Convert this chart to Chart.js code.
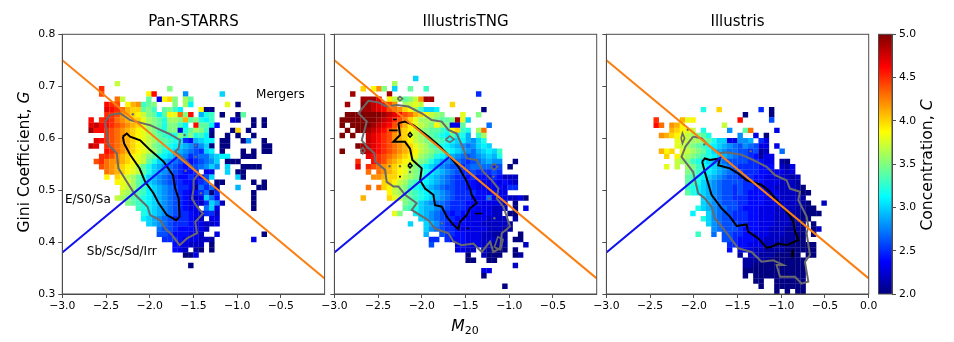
<!DOCTYPE html>
<html>
<head>
<meta charset="utf-8">
<title>Gini-M20</title>
<script src="https://cdn.jsdelivr.net/npm/chart.js@4/dist/chart.umd.min.js"></script>
<style>
html, body { margin: 0; padding: 0; background: #fff; overflow: hidden; }
canvas { position: absolute; left: 0; top: 0; filter: blur(0.3px); }
</style>
</head>
<body>
<canvas id="pan" width="954" height="342"></canvas>
<canvas id="tng" width="954" height="342"></canvas>
<canvas id="ill" width="954" height="342"></canvas>
<canvas id="cbar" width="954" height="342"></canvas>
<script>
// bins: 50 x 50 over M20 -3..0 and G 0.8..0.3, row 0 is the top one
// each row is [row, col, cells, col, cells, ...]
// one char per cell, position in LEVELS gives C = 2.0 + 0.1 * position
var LEVELS = '0123456789abcdefghijklmnopqrstu';

var panCells = [
  [9, 10,'h'],
  [10, 7,'p', 20,'f'],
  [11, 7,'o', 16,'jq', 23,'8', 30,'a'],
  [12, 10,'nh', 16,'e', 18,'3jkf', 23,'ge'],
  [13, 8,'qpo', 12,'jlmdef', 21,'f', 23,'gb', 31,'i', 33,'0'],
  [14, 8,'rqpnlkkefd', 19,'efdb', 26,'j00'],
  [15, 8,'ppomlkjhfeb', 19,'ejinfq', 26,'9cd', 30,'0', 33,'0', 34,'e'],
  [16, 5,'q', 7,'pqpnmlkkigfecggflef', 26,'cbd', 32,'21', 36,'0', 38,'0'],
  [17, 5,'rsqqponmlkigfecffdb', 25,'qeeb4', 36,'0', 38,'0'],
  [18, 5,'tqqponmlkjigfdcfff', 22,'3cegfd', 28,'1', 32,'0', 33,'k', 35,'0'],
  [19, 8,'ponmlkjihfedccfd', 24,'f', 25,'cdb', 28,'0', 31,'0', 33,'0', 36,'0'],
  [20, 6,'rq', 8,'ponmlkjihgeedcb', 23,'549abb', 30,'00', 34,'0', 35,'8', 38,'0'],
  [21, 5,'sr', 8,'ponmlkjihfedcba98', 25,'68a', 28,'0', 30,'00', 38,'00'],
  [22, 8,'qpnmlkjihgecba98765', 27,'ab', 30,'0', 34,'0', 36,'0', 38,'00'],
  [23, 7,'ppomlkjihfecba9875', 25,'6779ab', 31,'b', 34,'000'],
  [24, 6,'o', 7,'pnmmlkjiheca98765', 24,'45678', 29,'a', 31,'000'],
  [25, 7,'onmlkjigeca98765', 23,'45678a', 29,'8', 31,'a', 34,'000', 37,'0'],
  [26, 8,'nmlkjiheca987654', 24,'45', 27,'33', 31,'a', 33,'0', 34,'0'],
  [27, 8,'j', 10,'kjhgeca98765', 22,'44', 24,'54', 26,'3', 27,'6', 28,'a', 33,'a', 34,'0'],
  [28, 10,'jiigeca98765', 22,'544', 25,'3', 26,'5', 27,'6', 29,'00', 36,'0', 38,'0'],
  [29, 11,'ihgedba9876', 22,'554', 25,'1', 26,'7', 27,'5', 28,'7', 29,'1', 33,'9', 37,'00'],
  [30, 11,'hgfedba987', 21,'6543', 25,'4', 26,'5', 27,'7', 28,'0', 29,'5', 36,'0'],
  [31, 10,'hgfedcba9876', 22,'5432', 26,'3', 27,'a', 28,'7', 29,'4', 36,'0'],
  [32, 12,'fedcba98765', 23,'4332', 27,'5a8', 30,'2', 36,'0'],
  [33, 14,'dcba98765', 23,'433', 27,'7a', 29,'3', 36,'0'],
  [34, 15,'cba9876', 22,'55433', 27,'55', 29,'2'],
  [35, 15,'ba98765', 22,'55432', 28,'33'],
  [36, 16,'a98765', 22,'55433', 27,'22', 29,'3'],
  [37, 18,'76654', 23,'44332'],
  [38, 18,'6654', 22,'44332', 29,'3', 38,'0'],
  [39, 19,'5554333', 26,'22', 28,'1', 36,'3'],
  [40, 21,'43', 23,'3', 24,'222', 28,'0'],
  [41, 21,'4', 22,'3', 23,'2', 25,'1', 26,'0', 28,'0'],
  [42, 23,'00', 25,'3'],
  [44, 24,'0']
];

var tngCells = [
  [8, 15,'a'],
  [9, 11,'g'],
  [10, 5,'k', 7,'jmf', 11,'a', 14,'e', 17,'d'],
  [11, 3,'t', 10,'t', 27,'5'],
  [12, 5,'ttt', 8,'r', 10,'jhgefhm', 17,'tt'],
  [13, 2,'t', 5,'utsrqom', 13,'ghih', 22,'k'],
  [14, 5,'ttsrqonmkjgdaa', 19,'b', 28,'0'],
  [15, 2,'uuuuuuuts', 11,'rqonlkjhgf', 24,'i', 27,'f'],
  [16, 1,'uuuuuuuts', 10,'rpomkigggfeef', 23,'t', 24,'ia'],
  [17, 1,'u', 3,'uuuuts', 9,'rqonljihgfjgf', 22,'33', 24,'e', 29,'7'],
  [18, 2,'u', 4,'uutsrqonlkjhgfeedc', 22,'jk', 24,'dc', 27,'g', 28,'n'],
  [19, 1,'u', 3,'u', 6,'srqpomlkihgfedcb', 22,'eb', 24,'c9', 27,'d', 28,'g'],
  [20, 6,'srqpomlkjhgffedcba', 24,'b98', 27,'a', 28,'c'],
  [21, 4,'utsrqponmlkihgedcba98', 25,'7', 26,'8a', 28,'b', 29,'a'],
  [22, 1,'u', 5,'tsrqponmlkjhgfedcba98', 26,'79ab', 30,'a', 31,'d'],
  [23, 6,'rqp', 9,'onmlkjigfecba98', 24,'7', 25,'678', 28,'9a', 30,'9', 31,'c'],
  [24, 4,'p', 7,'qpo', 10,'mlkjigfeca987', 23,'765', 26,'6', 27,'7', 28,'8', 29,'9', 30,'88', 34,'0'],
  [25, 4,'r', 6,'po', 8,'nmlkjigfdba98', 21,'7', 22,'6', 23,'65677', 28,'77', 30,'5', 31,'6', 33,'0'],
  [26, 6,'n', 8,'nmlkjigfecba987', 23,'65', 25,'5', 26,'65', 28,'55', 30,'65'],
  [27, 7,'mmlkkjhgfdba98', 21,'76', 23,'55', 25,'4', 26,'5', 27,'443', 30,'5', 31,'4', 32,'2', 33,'22'],
  [28, 9,'kkjhgedcba987', 22,'65', 24,'54', 26,'4', 27,'33', 29,'3', 30,'43', 32,'4', 33,'3', 34,'2'],
  [29, 6,'n', 8,'nkjhgfdcba98', 20,'766', 23,'55', 25,'44', 27,'333', 30,'3', 31,'4', 32,'3', 33,'55'],
  [30, 10,'jhgfedcba987', 22,'655', 25,'55', 27,'44', 29,'3', 30,'4', 31,'3', 32,'3'],
  [31, 5,'l', 10,'kihfedcba98', 21,'7655', 25,'54', 27,'44', 29,'7', 30,'3', 31,'33', 33,'22', 35,'3', 36,'0'],
  [32, 13,'feda98', 19,'7765', 23,'5544', 27,'433', 30,'33', 32,'2', 34,'0'],
  [33, 13,'edc', 16,'a9987', 21,'6555', 25,'4433', 29,'322', 32,'2', 34,'0', 36,'3'],
  [34, 11,'if', 15,'ba98', 19,'7654', 23,'54', 25,'4333', 29,'3', 30,'22', 33,'0', 34,'0'],
  [35, 16,'a98', 19,'765', 22,'5443', 26,'333', 29,'2222', 34,'1'],
  [36, 14,'a', 17,'a98', 20,'654', 23,'4433', 27,'3', 28,'2', 29,'2', 30,'22', 32,'2', 33,'1'],
  [37, 17,'a87', 20,'65', 22,'543', 25,'3333', 29,'22', 31,'21', 33,'1'],
  [38, 17,'9', 20,'65', 22,'54', 24,'4', 25,'333', 28,'22', 30,'111', 35,'0'],
  [39, 18,'55', 21,'5', 22,'4', 23,'4433', 27,'322', 30,'211', 34,'00'],
  [40, 18,'6', 23,'3433', 27,'32', 29,'2', 30,'11', 32,'1', 36,'2'],
  [41, 23,'3322', 28,'2', 29,'1000', 34,'0'],
  [42, 25,'0', 28,'2', 29,'000', 34,'0', 35,'1'],
  [43, 25,'00', 29,'00'],
  [44, 34,'2'],
  [45, 28,'33'],
  [46, 28,'0'],
  [48, 32,'0']
];

var illCells = [
  [14, 18,'c', 21,'k', 29,'5', 31,'0'],
  [15, 26,'0', 31,'0'],
  [16, 9,'p', 14,'l', 15,'ij', 25,'q', 31,'6'],
  [17, 9,'qn', 12,'mlj', 22,'h'],
  [18, 12,'lk', 14,'jih', 18,'c', 23,'8', 26,'e', 27,'n', 32,'3'],
  [19, 10,'mlkjihgfe', 19,'c', 25,'8', 28,'3', 30,'0'],
  [20, 13,'iihggfeca', 22,'a33889', 29,'53'],
  [21, 13,'ihgfedcba', 22,'9876', 26,'8', 27,'7', 28,'6', 29,'33', 32,'3'],
  [22, 10,'ljk', 14,'ihgfeca987', 24,'7', 25,'6', 26,'65', 28,'6', 29,'1', 30,'2', 33,'7'],
  [23, 11,'k', 13,'jhgfedcba98', 24,'76654', 29,'1', 30,'3', 31,'3'],
  [24, 13,'hgfdcba9876', 24,'6665', 28,'5', 29,'4', 30,'3', 31,'3', 33,'10'],
  [25, 11,'i', 13,'h', 15,'gfdcba987', 24,'655', 27,'55', 29,'44', 31,'4', 33,'2', 34,'1', 35,'3'],
  [26, 15,'fedcba98', 23,'7665', 27,'55', 29,'4433', 33,'32', 35,'3'],
  [27, 15,'edcba98', 22,'7665', 26,'55', 28,'4433', 32,'222', 35,'1', 36,'2'],
  [28, 15,'edca9', 20,'8766', 24,'6655', 28,'443', 31,'3322', 35,'21'],
  [29, 15,'dcba98', 21,'7665', 25,'655', 28,'4433', 32,'2222', 36,'10'],
  [30, 15,'e', 16,'cba9', 20,'87665', 25,'6544', 29,'4333', 33,'2221', 37,'0', 38,'0'],
  [31, 18,'a98', 21,'7665', 25,'55', 27,'444', 30,'3332', 34,'222', 37,'1'],
  [32, 18,'a98', 21,'766', 24,'65', 26,'544', 29,'4333', 33,'2222', 37,'10', 41,'2'],
  [33, 17,'c', 18,'a987', 22,'76', 24,'65', 26,'44', 28,'4333', 32,'222', 35,'2110', 39,'0'],
  [34, 16,'b', 19,'a87', 22,'665', 25,'55', 27,'44', 29,'333', 32,'2221', 36,'1', 37,'00', 39,'00'],
  [35, 18,'c', 19,'a8', 21,'76', 23,'6', 24,'555', 27,'44', 29,'333', 32,'222', 35,'1100'],
  [36, 19,'a8', 21,'766', 24,'6', 25,'55', 27,'4', 28,'433', 31,'3222', 35,'110', 39,'0'],
  [37, 20,'876', 23,'66', 25,'54', 27,'443', 30,'32', 32,'22', 34,'111', 37,'0', 39,'0', 40,'2'],
  [38, 17,'d', 20,'7', 22,'6', 23,'6', 24,'55', 26,'44', 28,'33', 30,'322', 33,'211', 36,'00', 39,'0'],
  [39, 22,'66', 24,'5', 25,'44', 27,'433', 30,'22', 32,'2', 33,'11', 35,'100'],
  [40, 23,'55', 25,'44', 27,'333', 30,'22', 32,'111', 35,'000', 38,'00'],
  [41, 23,'4', 25,'3', 26,'3', 27,'322', 30,'1', 31,'111', 34,'0000', 38,'00'],
  [42, 25,'1', 27,'22', 29,'1', 30,'1100', 34,'000', 38,'00'],
  [43, 26,'1', 27,'11', 29,'1', 30,'100000', 36,'00'],
  [44, 26,'1100', 30,'00000', 35,'000'],
  [45, 26,'00', 28,'000000', 34,'0000'],
  [46, 26,'0', 28,'0000000', 35,'000'],
  [47, 28,'00', 32,'00000', 37,'0'],
  [48, 29,'0', 32,'000000'],
  [49, 32,'0', 34,'0', 36,'00']
];

// contours, [M20, G]
var panBlack = [[-2.308,.603],[-2.262,.609],[-2.224,.603],[-2.109,.596],[-1.995,.577],[-1.842,.555],[-1.735,.529],[-1.708,.503],[-1.670,.484],[-1.658,.449],[-1.697,.442],[-1.804,.452],[-1.899,.475],[-1.957,.494],[-2.052,.516],[-2.117,.542],[-2.224,.568],[-2.293,.590],[-2.308,.603]];
var panGray = [[-2.511,.632],[-2.453,.645],[-2.339,.648],[-2.224,.635],[-2.090,.629],[-1.995,.625],[-1.880,.616],[-1.785,.609],[-1.651,.596],[-1.670,.580],[-1.708,.574],[-1.613,.561],[-1.517,.545],[-1.441,.532],[-1.498,.519],[-1.498,.503],[-1.517,.484],[-1.460,.468],[-1.391,.455],[-1.479,.439],[-1.460,.417],[-1.574,.407],[-1.658,.394],[-1.746,.414],[-1.823,.426],[-1.880,.442],[-1.995,.452],[-2.025,.468],[-2.167,.491],[-2.262,.516],[-2.358,.542],[-2.377,.571],[-2.473,.587],[-2.492,.613],[-2.511,.632]];
var panGrayDots = [[-2.194,.646],[-1.601,.606],[-1.475,.586],[-1.59,.537],[-1.475,.564],[-1.414,.494]];

var tngBlack = [[-2.268,.629],[-2.192,.632],[-2.097,.625],[-1.925,.603],[-1.792,.584],[-1.677,.564],[-1.582,.545],[-1.506,.523],[-1.449,.503],[-1.430,.491],[-1.372,.475],[-1.449,.465],[-1.487,.452],[-1.563,.439],[-1.582,.425],[-1.639,.433],[-1.715,.449],[-1.772,.468],[-1.849,.471],[-1.868,.491],[-1.963,.503],[-2.020,.519],[-2.001,.542],[-2.108,.558],[-2.135,.580],[-2.192,.593],[-2.325,.593],[-2.249,.606],[-2.268,.629]];
var tngBlackBits = [
  [[-2.158,.606],[-2.135,.611],[-2.112,.606],[-2.135,.602],[-2.158,.606]],
  [[-2.158,.547],[-2.135,.552],[-2.112,.547],[-2.135,.543],[-2.158,.547]],
  [[-2.375,.615],[-2.276,.615]],
  [[-2.33,.636],[-2.287,.636]],
  [[-1.39,.455],[-1.307,.455]],
  [[-2.26,.526],[-2.24,.526]],
  [[-1.49,.426],[-1.46,.426]]
];
var tngGray = [[-2.649,.664],[-2.611,.672],[-2.497,.669],[-2.402,.661],[-2.287,.664],[-2.154,.661],[-2.001,.648],[-1.887,.635],[-1.772,.632],[-1.696,.616],[-1.601,.609],[-1.525,.580],[-1.487,.561],[-1.372,.558],[-1.296,.535],[-1.201,.519],[-1.124,.503],[-1.144,.484],[-1.067,.468],[-0.991,.430],[-1.086,.417],[-1.105,.388],[-1.182,.381],[-1.220,.401],[-1.315,.381],[-1.410,.397],[-1.544,.394],[-1.639,.401],[-1.696,.417],[-1.849,.426],[-1.925,.442],[-2.020,.452],[-2.116,.462],[-2.058,.475],[-2.192,.491],[-2.268,.507],[-2.325,.507],[-2.402,.516],[-2.421,.539],[-2.535,.555],[-2.543,.571],[-2.630,.584],[-2.687,.596],[-2.630,.632],[-2.726,.648],[-2.649,.664]];
var tngGrayBits = [
  [[-2.70,.576],[-2.676,.582],[-2.65,.576],[-2.676,.57],[-2.70,.576]],
  [[-1.73,.597],[-1.68,.604],[-1.63,.598],[-1.68,.592],[-1.73,.597]],
  [[-1.21,.545],[-1.174,.551],[-1.135,.545],[-1.174,.539],[-1.21,.545]],
  [[-2.28,.676],[-2.25,.68],[-2.22,.676],[-2.25,.672],[-2.28,.676]],
  [[-1.17,.39],[-1.13,.41],[-1.07,.405],[-1.1,.385],[-1.17,.39]]
];
var tngGrayDots = [[-2.37,.546],[-2.25,.546],[-2.135,.535],[-1.231,.484],[-1.17,.446],[-1.77,.436],[-1.18,.526]];

var illBlack = [[-1.905,.555],[-1.874,.561],[-1.817,.558],[-1.702,.561],[-1.721,.548],[-1.588,.542],[-1.492,.532],[-1.397,.519],[-1.225,.510],[-1.149,.500],[-1.034,.478],[-0.920,.455],[-0.862,.439],[-0.843,.420],[-0.805,.404],[-0.939,.394],[-1.034,.397],[-1.111,.391],[-1.168,.389],[-1.263,.407],[-1.378,.420],[-1.397,.434],[-1.511,.431],[-1.588,.449],[-1.683,.465],[-1.798,.491],[-1.836,.513],[-1.874,.535],[-1.905,.555]];
var illBlackBits = [[[-0.875,.384],[-0.865,.384],[-0.865,.372],[-0.875,.372],[-0.875,.384]]];
var illGray = [[-2.008,.603],[-1.912,.600],[-1.836,.587],[-1.760,.577],[-1.702,.571],[-1.626,.573],[-1.454,.568],[-1.321,.558],[-1.168,.545],[-1.072,.529],[-0.939,.519],[-0.901,.503],[-0.786,.497],[-0.805,.481],[-0.710,.449],[-0.691,.430],[-0.710,.417],[-0.672,.375],[-0.729,.362],[-0.691,.324],[-0.767,.320],[-0.843,.333],[-1.015,.333],[-1.053,.356],[-0.977,.356],[-1.092,.365],[-1.225,.362],[-1.340,.381],[-1.492,.388],[-1.550,.401],[-1.683,.430],[-1.760,.446],[-1.798,.468],[-1.874,.484],[-1.950,.494],[-2.008,.535],[-2.141,.564],[-2.095,.584],[-2.008,.603]];
var illGrayBits = [[[-2.145,.60],[-2.13,.61],[-2.105,.60],[-2.13,.59],[-2.145,.60]]];
var illGrayDots = [[-2.07,.616],[-1.88,.588],[-1.35,.575]];

var mergerLine = [[-3.0,.75],[0.0,.33]];
var esLine = [[-3.0,.38],[-1.678,.565]];

var yTicks = [.3,.4,.5,.6,.7,.8];
var xTicksShort = [-3,-2.5,-2,-1.5,-1,-.5];
var xTicksLong = [-3,-2.5,-2,-1.5,-1,-.5,0];
var cbarTicks = [2,2.5,3,3.5,4,4.5,5];

var noteTexts = ['Mergers','E/S0/Sa','Sb/Sc/Sd/Irr'];
var noteM = [-0.784,-2.97,-2.72];
var noteG = [.683,.481,.381];

var FONT = '"DejaVu Sans"';
var FRAME = '#4d4d4d';

function jet(t) {
    function ch(v) { return Math.round(255 * Math.max(0, Math.min(1, v))); }
    var r = 1.5 - Math.abs(4 * t - 3), g = 1.5 - Math.abs(4 * t - 2), b = 1.5 - Math.abs(4 * t - 1);
    return 'rgb(' + ch(r) + ',' + ch(g) + ',' + ch(b) + ')';
}

function fmt(v) {
    return v.toFixed(1).replace('-', '\u2212');
}

function makeCells(rows) {
    var pts = [], colors = [];
    rows.forEach(function(row) {
        for (var k = 1; k < row.length; k += 2) {
            var cells = row[k + 1];
            for (var n = 0; n < cells.length; n++) {
                pts.push({x: -3 + 0.06 * (row[k] + n + 0.5), y: 0.8 - 0.01 * (row[0] + 0.5)});
                colors.push(jet(LEVELS.indexOf(cells[n]) / 30));
            }
        }
    });
    return {pts: pts, colors: colors};
}

function toXY(list) {
    return list.map(function(p) { return {x: p[0], y: p[1]}; });
}

function lineSet(list, color, width) {
    return {type: 'scatter', showLine: true, data: toXY(list), borderColor: color, borderWidth: width,
            pointRadius: 0, tension: 0, fill: false};
}

// text with italic and subscript runs, x y is the middle of the run
function drawParts(ctx, parts, x, y, rot) {
    var total = 0;
    parts.forEach(function(p) {
        ctx.font = p.font;
        total += ctx.measureText(p.t).width;
    });
    ctx.save();
    ctx.translate(x, y);
    ctx.rotate(rot);
    ctx.fillStyle = '#000';
    ctx.textAlign = 'left';
    ctx.textBaseline = 'alphabetic';
    var pos = -total / 2;
    parts.forEach(function(p) {
        ctx.font = p.font;
        ctx.fillText(p.t, pos, p.dy || 0);
        pos += ctx.measureText(p.t).width;
    });
    ctx.restore();
}

var framePlugin = {
    id: 'frame',
    afterDraw: function(chart) {
        var a = chart.chartArea, ctx = chart.ctx;
        ctx.save();
        ctx.strokeStyle = FRAME;
        ctx.lineWidth = 1;
        ctx.strokeRect(a.left, a.top, a.right - a.left, a.bottom - a.top);
        ctx.restore();
    }
};

var notesPlugin = {
    id: 'notes',
    afterDraw: function(chart) {
        var ctx = chart.ctx;
        ctx.save();
        ctx.fillStyle = '#000';
        ctx.font = '12px ' + FONT;
        ctx.textAlign = 'left';
        ctx.textBaseline = 'middle';
        noteTexts.forEach(function(t, i) {
            ctx.fillText(t, chart.scales.x.getPixelForValue(noteM[i]), chart.scales.y.getPixelForValue(noteG[i]));
        });
        ctx.restore();
        drawParts(ctx, [{t: 'Gini Coefficient, ', font: '15.6px ' + FONT}, {t: 'G', font: 'italic 15.6px ' + FONT}],
                  29, 162, -Math.PI / 2);
        drawParts(ctx, [{t: 'M', font: 'italic 15.6px ' + FONT}, {t: '20', font: '11px ' + FONT, dy: 3}],
                  465, 331, 0);
    }
};

function makePanel(id, title, rows, black, blackBits, gray, grayBits, dots, left, right, labelY, xTicks, extra) {
    var cells = makeCells(rows);
    var sets = [
        lineSet(mergerLine, '#fb7f10', 2),
        lineSet(esLine, '#1010f0', 2),
        lineSet(black, '#000', 2)
    ];
    blackBits.forEach(function(b) { sets.push(lineSet(b, '#000', 1.6)); });
    sets.push(lineSet(gray, '#6a6a6a', 2));
    grayBits.forEach(function(b) { sets.push(lineSet(b, '#6a6a6a', 1.6)); });
    sets.push({type: 'scatter', data: toXY(dots), pointStyle: 'circle', pointRadius: 1.2,
               pointBackgroundColor: '#6a6a6a', pointBorderWidth: 0});
    sets.push({type: 'scatter', data: cells.pts, pointStyle: 'rect', pointRadius: 3.85,
               pointBackgroundColor: cells.colors, pointBorderWidth: 0});
    return new Chart(document.getElementById(id), {
        type: 'scatter',
        data: {datasets: sets},
        plugins: [framePlugin].concat(extra),
        options: {
            responsive: false,
            animation: false,
            events: [],
            layout: {padding: {left: left - 40, right: 954 - right, top: 0, bottom: 24}},
            plugins: {
                legend: {display: false},
                tooltip: {enabled: false},
                title: {display: true, text: title, fullSize: false, color: '#000',
                        font: {family: FONT, size: 15, weight: 'normal', lineHeight: 1.2},
                        padding: {top: 13, bottom: 3.3}}
            },
            scales: {
                x: {
                    min: -3, max: 0,
                    afterFit: function(s) { s.height = 24; },
                    afterBuildTicks: function(s) { s.ticks = xTicks.map(function(v) { return {value: v}; }); },
                    grid: {drawOnChartArea: false, drawTicks: true, tickLength: 4, color: FRAME},
                    border: {color: FRAME},
                    ticks: {color: '#000', font: {family: FONT, size: 10.8}, padding: 2, maxRotation: 0, autoSkip: false,
                            callback: function(v) { return fmt(v); }}
                },
                y: {
                    min: 0.3, max: 0.8,
                    afterFit: function(s) { s.width = 40; },
                    afterBuildTicks: function(s) { s.ticks = yTicks.map(function(v) { return {value: v}; }); },
                    grid: {drawOnChartArea: false, drawTicks: true, tickLength: 4, color: FRAME},
                    border: {color: FRAME},
                    ticks: {display: labelY, color: '#000', font: {family: FONT, size: 10.8}, padding: 3, autoSkip: false,
                            callback: function(v) { return fmt(v); }}
                }
            }
        }
    });
}

makePanel('pan', 'Pan-STARRS', panCells, panBlack, [], panGray, [], panGrayDots, 62.3, 324.6, true, xTicksShort, [notesPlugin]);
makePanel('tng', 'IllustrisTNG', tngCells, tngBlack, tngBlackBits, tngGray, tngGrayBits, tngGrayDots, 334.4, 596.7, false, xTicksShort, []);
makePanel('ill', 'Illustris', illCells, illBlack, illBlackBits, illGray, illGrayBits, illGrayDots, 606.4, 868.7, false, xTicksLong, []);

var cbarLabelPlugin = {
    id: 'cbarLabel',
    afterDraw: function(chart) {
        drawParts(chart.ctx, [{t: 'Concentration, ', font: '15.6px ' + FONT}, {t: 'C', font: 'italic 15.6px ' + FONT}],
                  932, 165, -Math.PI / 2);
    }
};

new Chart(document.getElementById('cbar'), {
    type: 'bar',
    data: {
        labels: ['C'],
        datasets: [{
            data: [[2, 5]],
            barPercentage: 1,
            categoryPercentage: 1,
            borderWidth: 0,
            backgroundColor: function(c) {
                var a = c.chart.chartArea;
                if (!a) { return '#000'; }
                var g = c.chart.ctx.createLinearGradient(0, a.bottom, 0, a.top);
                for (var i = 0; i <= 32; i++) { g.addColorStop(i / 32, jet(i / 32)); }
                return g;
            }
        }]
    },
    plugins: [framePlugin, cbarLabelPlugin],
    options: {
        responsive: false,
        animation: false,
        events: [],
        layout: {padding: {left: 878.5, right: 954 - 892 - 40, top: 34.3, bottom: 48}},
        plugins: {legend: {display: false}, tooltip: {enabled: false}},
        scales: {
            x: {display: false},
            y: {
                position: 'right',
                min: 2, max: 5,
                afterFit: function(s) { s.width = 40; },
                afterBuildTicks: function(s) { s.ticks = cbarTicks.map(function(v) { return {value: v}; }); },
                grid: {drawOnChartArea: false, drawTicks: true, tickLength: 4, color: FRAME},
                border: {color: FRAME},
                ticks: {color: '#000', font: {family: FONT, size: 10.8}, padding: 3, autoSkip: false,
                        callback: function(v) { return fmt(v); }}
            }
        }
    }
});
</script>
</body>
</html>
